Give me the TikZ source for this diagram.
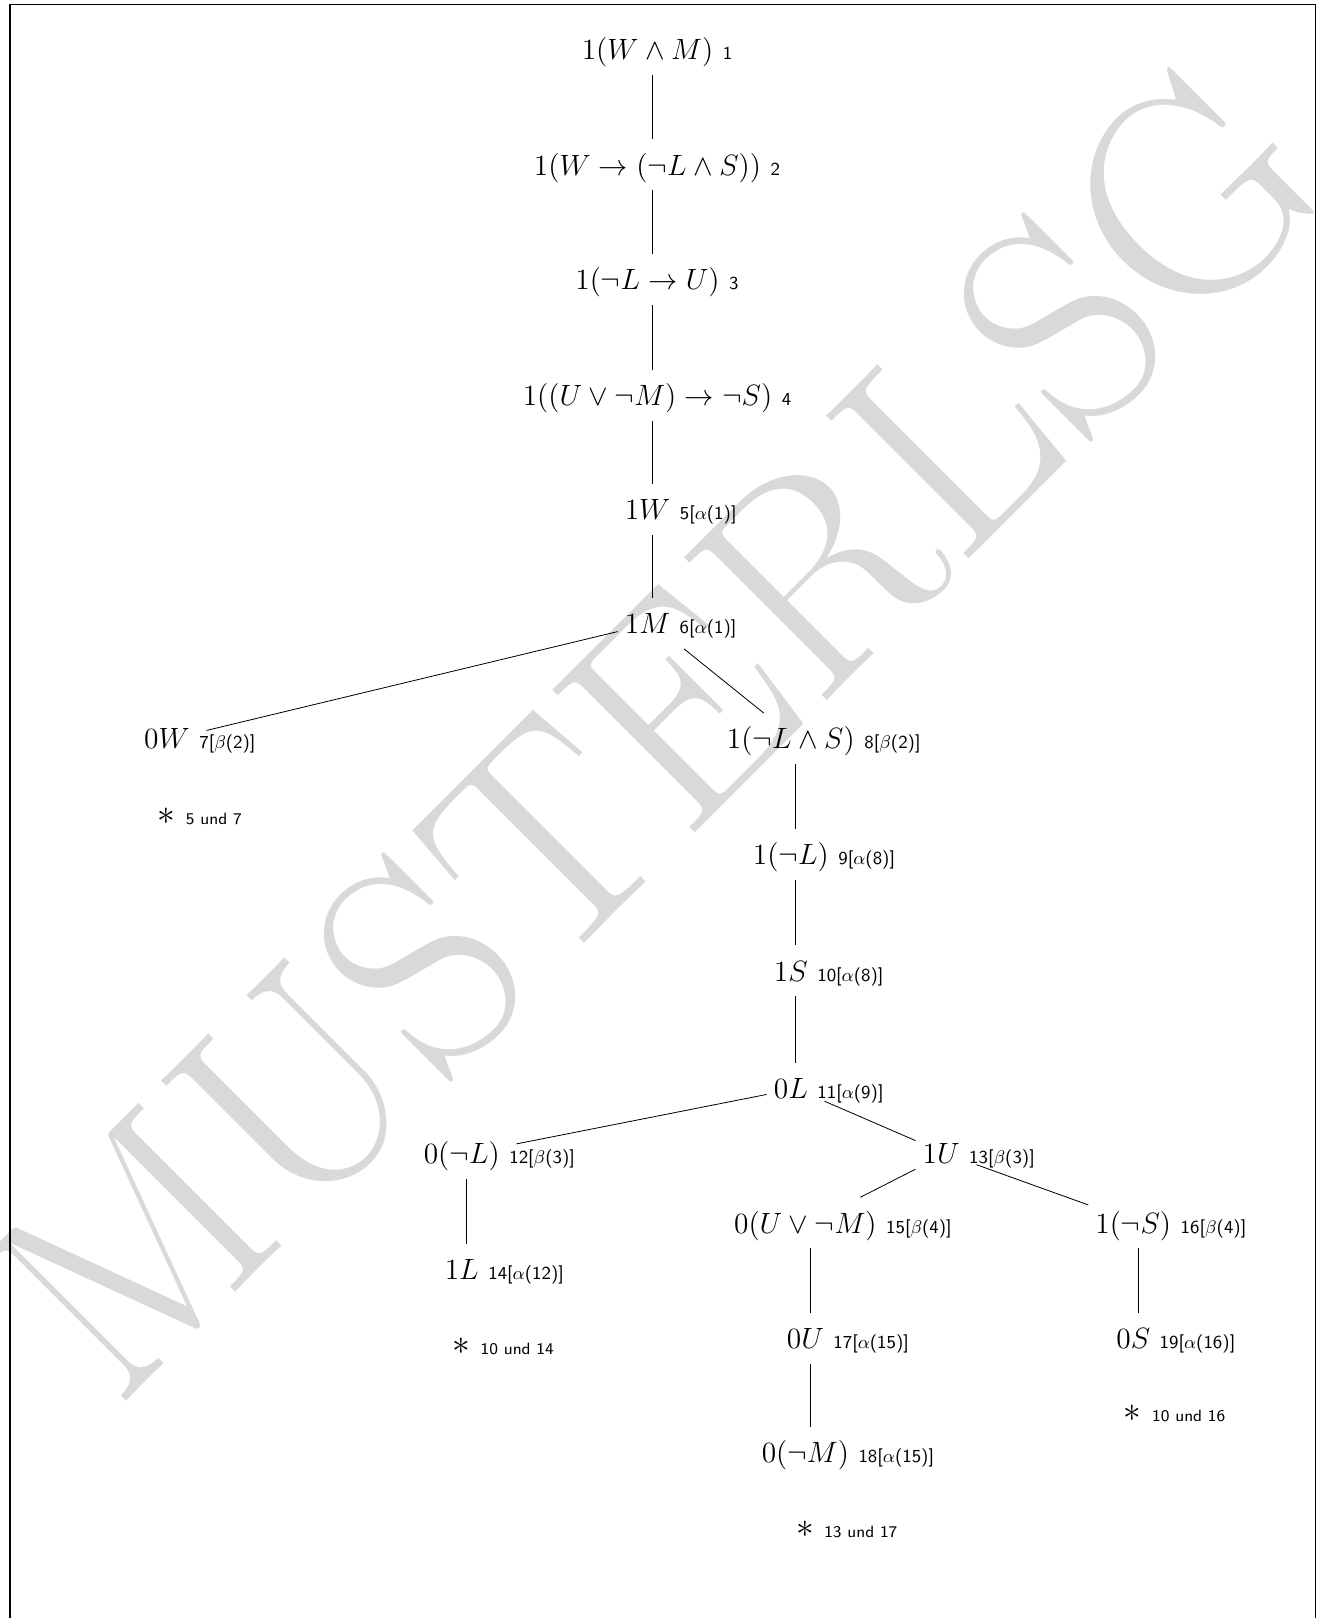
\documentclass[tikz,border=0pt]{standalone}
\usepackage{xcolor}
\definecolor{DraftGray}{HTML}{D9D9D9}
\newcommand{\ruletag}[1]{\rlap{\sffamily\small #1}}
\newcommand{\closetag}[1]{\rlap{\sffamily\footnotesize #1}}

\begin{document}
\begin{tikzpicture}[
        formula/.style={
            font=\Large,
            text height=14pt,
            text depth=4pt
        },
        closure/.style={
            font=\LARGE
        },
        branch/.style={
            line width=0.4pt,
            draw=black
        },
        watermark/.style={
            text=DraftGray,
            font=\fontsize{145}{145}\selectfont,
            rotate=45
        },
        pageframe/.style={
            line width=0.7pt
        }
    ]
        \useasboundingbox (-11.24,0.85) rectangle (11.49,-27.03);
        \node[watermark] (draft) at (0.05,-11.73) {MUSTERLSG};
        \draw[pageframe] (-11.07,-27.03) -- (-11.07,0.77)
            -- (11.43,0.77) -- (11.43,-27.03);

        \node[formula] (n1) at (0,0) {$1(W \wedge M)$ \ruletag{1}};
        \node[formula] (n2) at (0,-1.99) {$1(W \to (\neg L \wedge S))$ \ruletag{2}};
        \node[formula] (n3) at (0,-3.97) {$1(\neg L \to U)$ \ruletag{3}};
        \node[formula] (n4) at (0,-5.96) {$1((U \vee \neg M) \to \neg S)$ \ruletag{4}};
        \node[formula] (n5) at (0,-7.93) {$1W$ \ruletag{5[$\alpha$(1)]}};
        \node[formula] (n6) at (0,-9.89) {$1M$ \ruletag{6[$\alpha$(1)]}};
        \node[formula] (n7) at (-8.28,-11.88) {$0W$ \ruletag{7[$\beta$(2)]}};
        \node[formula] (n8) at (2.47,-11.88) {$1(\neg L \wedge S)$ \ruletag{8[$\beta$(2)]}};
        \node[formula] (n9) at (2.47,-13.87) {$1(\neg L)$ \ruletag{9[$\alpha$(8)]}};
        \node[formula] (n10) at (2.47,-15.88) {$1S$ \ruletag{10[$\alpha$(8)]}};
        \node[formula] (n11) at (2.47,-17.91) {$0L$ \ruletag{11[$\alpha$(9)]}};
        \node[formula] (n12) at (-3.20,-19.03) {$0(\neg L)$ \ruletag{12[$\beta$(3)]}};
        \node[formula] (n13) at (5.06,-19.03) {$1U$ \ruletag{13[$\beta$(3)]}};
        \node[formula] (n14) at (-3.20,-21.02) {$1L$ \ruletag{14[$\alpha$(12)]}};
        \node[formula] (n15) at (2.72,-20.22) {$0(U \vee \neg M)$ \ruletag{15[$\beta$(4)]}};
        \node[formula] (n16) at (8.37,-20.22) {$1(\neg S)$ \ruletag{16[$\beta$(4)]}};
        \node[formula] (n17) at (2.72,-22.21) {$0U$ \ruletag{17[$\alpha$(15)]}};
        \node[formula] (n18) at (2.72,-24.18) {$0(\neg M)$ \ruletag{18[$\alpha$(15)]}};
        \node[formula] (n19) at (8.37,-22.21) {$0S$ \ruletag{19[$\alpha$(16)]}};

        % closed branches
        \node[closure] (x7) at (-8.28,-13.21) {$\ast$ \closetag{5 und 7}};
        \node[closure] (x14) at (-3.20,-22.35) {$\ast$ \closetag{10 und 14}};
        \node[closure] (x19) at (8.37,-23.51) {$\ast$ \closetag{10 und 16}};
        \node[closure] (x18) at (2.72,-25.50) {$\ast$ \closetag{13 und 17}};

        \draw[branch] (n1) -- (n2);
        \draw[branch] (n2) -- (n3);
        \draw[branch] (n3) -- (n4);
        \draw[branch] (n4) -- (n5);
        \draw[branch] (n5) -- (n6);
        \draw[branch] (n6) -- (n7);
        \draw[branch] (n6) -- (n8);
        \draw[branch] (n8) -- (n9);
        \draw[branch] (n9) -- (n10);
        \draw[branch] (n10) -- (n11);
        \draw[branch] (n11) -- (n12);
        \draw[branch] (n11) -- (n13);
        \draw[branch] (n12) -- (n14);
        \draw[branch] (n13) -- (n15);
        \draw[branch] (n13) -- (n16);
        \draw[branch] (n15) -- (n17);
        \draw[branch] (n16) -- (n19);
        \draw[branch] (n17) -- (n18);
    \end{tikzpicture}
\end{document}
